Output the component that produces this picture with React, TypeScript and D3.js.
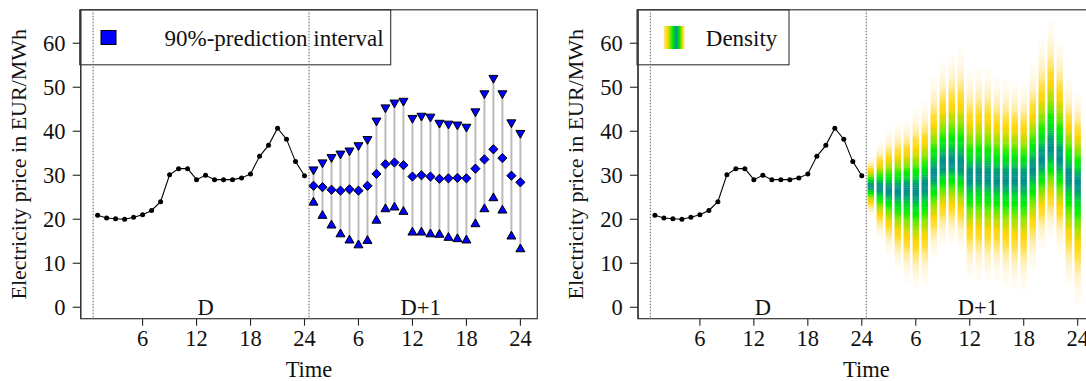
import React from 'react';
import * as d3 from 'd3';

// ---------- data ----------
const hoursD = [1, 2, 3, 4, 5, 6, 7, 8, 9, 10, 11, 12, 13, 14, 15, 16, 17, 18, 19, 20, 21, 22, 23, 24];
const priceD = [20.9, 20.3, 20.1, 20.0, 20.45, 21.0, 22.0, 24.0, 30.1, 31.5, 31.5, 29.0, 30.0, 29.0, 29.0, 29.0, 29.4, 30.3, 34.3, 36.8, 40.7, 38.2, 33.1, 29.9];

const hoursD1 = [25, 26, 27, 28, 29, 30, 31, 32, 33, 34, 35, 36, 37, 38, 39, 40, 41, 42, 43, 44, 45, 46, 47, 48];
const medianD1 = [27.6, 27.3, 26.7, 26.5, 26.8, 26.5, 27.6, 30.3, 32.5, 32.9, 32.3, 29.7, 30.0, 29.7, 29.2, 29.3, 29.4, 29.3, 31.5, 33.6, 35.9, 33.9, 29.9, 28.4];
const upperD1 = [31.3, 32.9, 34.1, 34.9, 35.6, 36.8, 38.2, 42.4, 45.4, 46.5, 46.9, 43.0, 43.5, 43.3, 41.9, 41.7, 41.5, 41.0, 44.5, 48.6, 52.1, 48.6, 42.0, 39.6];
const lowerD1 = [23.8, 20.8, 18.6, 16.6, 15.2, 14.1, 15.1, 19.7, 22.3, 22.7, 21.7, 17.0, 17.0, 16.6, 16.5, 15.8, 15.5, 15.2, 18.9, 22.3, 24.8, 22.0, 16.1, 13.2];

const xTickValues = [6, 12, 18, 24, 30, 36, 42, 48];
const xTickLabels = ['6', '12', '18', '24', '6', '12', '18', '24'];
const yTickValues = [0, 10, 20, 30, 40, 50, 60];
const dayBoundaries = [0.5, 24.5];
const dayLabels = [
  { hour: 13, text: 'D' },
  { hour: 36.9, text: 'D+1' },
];

// ---------- layout ----------
const W = 1086;
const H = 381;
const FONT = "'Liberation Serif', 'Times New Roman', 'DejaVu Serif', serif";
const FS = 22.5;
const boxL = 80.7;
const boxR = 537.3;
const boxT = 9.8;
const boxB = 318.7;
const panelOffset = 557.3;

const x = d3.scaleLinear().domain([1 - 0.04 * 47, 48 + 0.04 * 47]).range([boxL, boxR]);
const y = d3.scaleLinear().domain([-2.6, 67.6]).range([boxB, boxT]);

const densColor = d3
  .scaleLinear<string>()
  .domain([0, 0.015, 0.07, 0.2, 0.32, 0.6, 0.78, 0.9, 1])
  .range(['#FFFFFF', '#FFFCF3', '#FFF1C2', '#FFDD33', '#FFD400', '#7CE800', '#00EE00', '#00D830', '#00908C'])
  .interpolate(d3.interpolateRgb)
  .clamp(true);

const diamond = (r: number) => `M0,${-r}L${r},0L0,${r}L${-r},0Z`;
const triUp = (R: number) => {
  const s = R * Math.sin(Math.PI / 3);
  return `M0,${-R}L${s},${R / 2}L${-s},${R / 2}Z`;
};
const triDown = (R: number) => {
  const s = R * Math.sin(Math.PI / 3);
  return `M0,${R}L${s},${-R / 2}L${-s},${-R / 2}Z`;
};

const line = d3
  .line<number>()
  .x((_, i) => x(hoursD[i]))
  .y((d) => y(d));

function Axes() {
  return (
    <g>
      <line x1={boxL} x2={boxL} y1={boxT} y2={boxB} stroke="#222" strokeWidth={1.2} />
      {yTickValues.map((t) => (
        <g key={t}>
          <line x1={boxL - 8} x2={boxL} y1={y(t)} y2={y(t)} stroke="#222" strokeWidth={1.1} />
          <text x={65.5} y={y(t)} dy="0.36em" textAnchor="end" fontSize={FS} fontFamily={FONT} fill="#111">
            {t}
          </text>
        </g>
      ))}
      {xTickValues.map((t, i) => (
        <g key={t}>
          <line x1={x(t)} x2={x(t)} y1={boxB} y2={boxB + 7} stroke="#222" strokeWidth={1.1} />
          <text x={x(t)} y={345.5} textAnchor="middle" fontSize={FS} fontFamily={FONT} fill="#111">
            {xTickLabels[i]}
          </text>
        </g>
      ))}
      <text x={(boxL + boxR) / 2} y={376.5} textAnchor="middle" fontSize={FS} fontFamily={FONT} fill="#111">
        Time
      </text>
      <text
        transform={`translate(25.5, ${(boxT + boxB) / 2}) rotate(-90)`}
        textAnchor="middle"
        fontSize={22}
        fontFamily={FONT}
        fill="#111"
      >
        Electricity price in EUR/MWh
      </text>
      {dayLabels.map((d) => (
        <text key={d.text} x={x(d.hour)} y={315} textAnchor="middle" fontSize={FS} fontFamily={FONT} fill="#111">
          {d.text}
        </text>
      ))}
      <rect x={boxL} y={boxT} width={boxR - boxL} height={boxB - boxT} fill="none" stroke="#333" strokeWidth={1.2} />
    </g>
  );
}

function ActualSeries() {
  return (
    <g>
      <path d={line(priceD) || ''} fill="none" stroke="#000" strokeWidth={1.1} />
      {priceD.map((v, i) => (
        <circle key={i} cx={x(hoursD[i])} cy={y(v)} r={2.5} fill="#000" />
      ))}
    </g>
  );
}

function Boundaries() {
  return (
    <g>
      {dayBoundaries.map((b) => (
        <line
          key={b}
          x1={x(b)}
          x2={x(b)}
          y1={boxT}
          y2={boxB}
          stroke="#777"
          strokeWidth={1.2}
          strokeDasharray="1.5,1.5"
        />
      ))}
    </g>
  );
}

function IntervalPanel() {
  return (
    <g>
      <Axes />
      <ActualSeries />
      {hoursD1.map((h, i) => (
        <line key={'l' + h} x1={x(h)} x2={x(h)} y1={y(lowerD1[i])} y2={y(upperD1[i])} stroke="#BBBBBB" strokeWidth={2} />
      ))}
      {hoursD1.map((h, i) => (
        <g key={'m' + h}>
          <path d={triDown(5.2)} transform={`translate(${x(h)},${y(upperD1[i])})`} fill="#0000FF" stroke="#000" strokeWidth={1} />
          <path d={diamond(4.6)} transform={`translate(${x(h)},${y(medianD1[i])})`} fill="#0000FF" stroke="#000" strokeWidth={1} />
          <path d={triUp(5.2)} transform={`translate(${x(h)},${y(lowerD1[i])})`} fill="#0000FF" stroke="#000" strokeWidth={1} />
        </g>
      ))}
      <rect x={boxL - 1} y={boxT} width={311} height={55} fill="none" stroke="#333" strokeWidth={1.1} />
      <rect x={101} y={30.5} width={15} height={14} fill="#0000FF" stroke="#000" strokeWidth={1} />
      <text x={164.5} y={45.5} fontSize={23} fontFamily={FONT} fill="#111">
        90%-prediction interval
      </text>
      <Boundaries />
    </g>
  );
}

function DensityPanel() {
  const step = 0.5;
  const grid = d3.range(0, 66, step);
  const halfW = 3.2;
  return (
    <g>
      <Axes />
      <ActualSeries />
      {hoursD1.map((h, i) => {
        const m = medianD1[i];
        const sU = (upperD1[i] - m) / 1.645;
        const sL = (m - lowerD1[i]) / 1.645;
        return (
          <g key={'d' + h}>
            {grid.map((v) => {
              const s = v >= m ? sU : sL;
              const r = Math.exp(-0.5 * ((v - m) / s) ** 2);
              if (r < 0.012) return null;
              const y0 = y(v + step / 2);
              const y1 = y(v - step / 2);
              return (
                <rect
                  key={v}
                  x={x(h) - halfW}
                  width={halfW * 2}
                  y={y0}
                  height={y1 - y0 + 0.3}
                  fill={densColor(r)}
                />
              );
            })}
          </g>
        );
      })}
      <defs>
        <linearGradient id="densGrad" x1="0" x2="1" y1="0" y2="0">
          <stop offset="0" stopColor="#FFE680" />
          <stop offset="0.18" stopColor="#FFD700" />
          <stop offset="0.42" stopColor="#00EE00" />
          <stop offset="0.58" stopColor="#00908C" />
          <stop offset="0.75" stopColor="#00EE00" />
          <stop offset="0.9" stopColor="#FFD700" />
          <stop offset="1" stopColor="#FFF3C0" />
        </linearGradient>
      </defs>
      <rect x={boxL - 1} y={boxT} width={152} height={55} fill="none" stroke="#333" strokeWidth={1.1} />
      <rect x={106.5} y={26} width={21} height={23} fill="url(#densGrad)" />
      <text x={148.5} y={45.5} fontSize={23} fontFamily={FONT} fill="#111">
        Density
      </text>
      <Boundaries />
    </g>
  );
}

export default function App() {
  return (
    <svg
      width={W}
      height={H}
      viewBox={`0 0 ${W} ${H}`}
      style={{ position: 'absolute', left: 0, top: 0, background: '#fff' }}
    >
      <rect x={0} y={0} width={W} height={H} fill="#fff" />
      <IntervalPanel />
      <g transform={`translate(${panelOffset},0)`}>
        <DensityPanel />
      </g>
    </svg>
  );
}
